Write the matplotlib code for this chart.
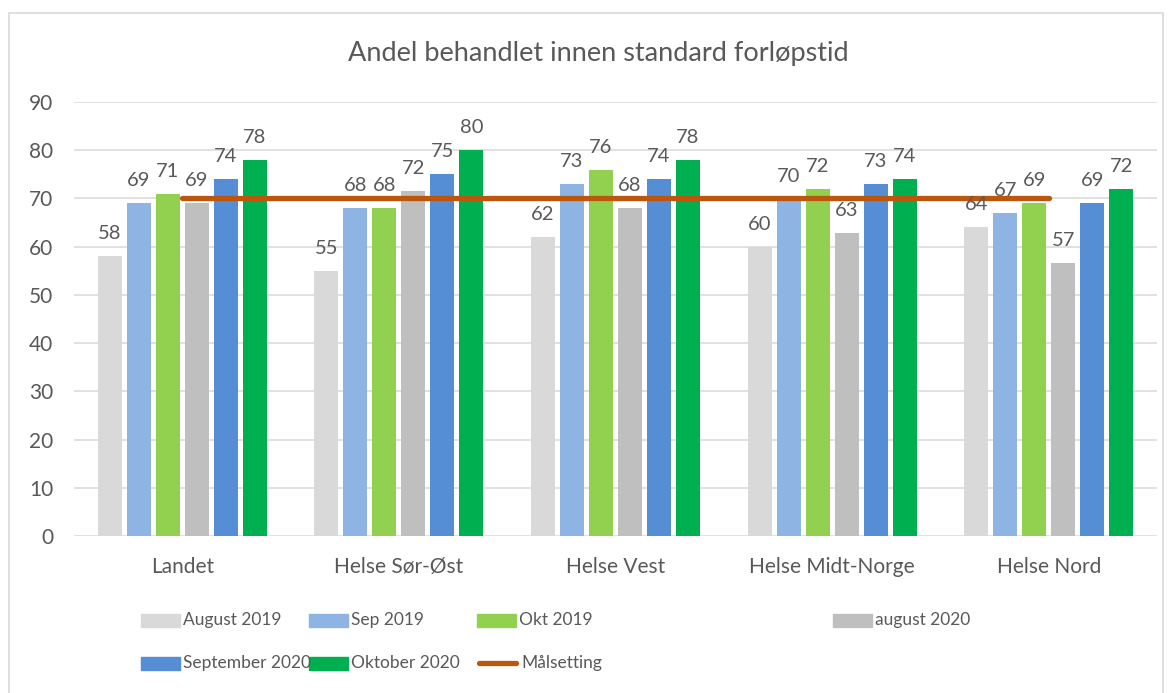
import matplotlib
matplotlib.use("Agg")
import matplotlib.pyplot as plt
from matplotlib.patches import Rectangle
from matplotlib.lines import Line2D
import numpy as np

plt.rcParams['font.family'] = ['Lato', 'DejaVu Sans']

title = "Andel behandlet innen standard forløpstid"
categories = ["Landet", "Helse Sør-Øst", "Helse Vest", "Helse Midt-Norge", "Helse Nord"]
series_names = ["August 2019", "Sep 2019", "Okt 2019", "august 2020", "September 2020", "Oktober 2020"]
aug_2019 = [58, 55, 62, 60, 64]
sep_2019 = [69, 68, 73, 70, 67]
okt_2019 = [71, 68, 76, 72, 69]
aug_2020 = [69, 71.6, 68, 62.8, 56.7]
sep_2020 = [74, 75, 74, 73, 69]
okt_2020 = [78, 80, 78, 74, 72]
target_name = "Målsetting"
target = [70, 70, 70, 70, 70]
yticks = [0, 10, 20, 30, 40, 50, 60, 70, 80, 90]

colors = ["#D9D9D9", "#8EB4E3", "#92D050", "#BFBFBF", "#558ED5", "#00B050"]
target_color = "#BD560D"
text_color = "#595959"
grid_color = "#D9D9D9"

W, H = 1174, 693
fig = plt.figure(figsize=(W / 100, H / 100), dpi=100)

def fx(px):
    return px / W

def fy(py):
    return 1 - py / H

# chart border
fig.patches.append(Rectangle((fx(9), fy(700)), fx(1163) - fx(9), fy(13) - fy(700),
                             transform=fig.transFigure, fill=False,
                             edgecolor="#D9D9D9", linewidth=1.2))

ax = fig.add_axes([fx(74), fy(536), fx(1157) - fx(74), fy(102) - fy(536)])

all_series = [aug_2019, sep_2019, okt_2019, aug_2020, sep_2020, okt_2020]
x = np.arange(len(categories))
step = 29 / 216.6
bw = 24 / 216.6
for i, (name, vals) in enumerate(zip(series_names, all_series)):
    offs = (i - 2.5) * step
    ax.bar(x + offs, vals, width=bw, color=colors[i], zorder=2, label=name)
    for xi, v in zip(x, vals):
        ax.annotate(f"{round(v):d}", (xi + offs, v), xytext=(0, 10),
                    textcoords="offset points", ha="center", va="bottom",
                    fontsize=14.5, color=text_color, zorder=5)

ax.plot(x, target, color=target_color, linewidth=3.8, solid_capstyle="round", zorder=4)

ax.set_xlim(-0.5, len(categories) - 0.5)
ax.set_ylim(0, 90)
ax.set_yticks(yticks)
ax.set_xticks(x)
ax.set_xticklabels(categories)
ax.tick_params(axis="both", length=0, colors=text_color, labelsize=15)
ax.tick_params(axis="y", pad=15)
ax.tick_params(axis="x", pad=15)
for s in ax.spines.values():
    s.set_visible(False)
ax.grid(axis="y", color=grid_color, linewidth=1.1, zorder=0)
ax.set_axisbelow(True)

fig.text(fx(598), fy(53), title, ha="center", va="center", fontsize=19.5, color=text_color)

# legend (manual layout, Excel style)
leg_pos = [(141, 620), (309, 620), (477, 620), (833, 620), (141, 663), (309, 663)]
for (px, py), name, c in zip(leg_pos, series_names, colors):
    fig.patches.append(Rectangle((fx(px), fy(py + 6.5)), fx(39), fy(0) - fy(13),
                                 transform=fig.transFigure, color=c))
    fig.text(fx(px + 42), fy(py), name, ha="left", va="center", fontsize=12.5, color=text_color)
fig.lines.append(Line2D([fx(479), fx(516)], [fy(663), fy(663)], transform=fig.transFigure,
                        color=target_color, linewidth=3.8, solid_capstyle="round"))
fig.text(fx(521), fy(663), target_name, ha="left", va="center", fontsize=12.5, color=text_color)

fig.savefig("out.png", dpi=100)
